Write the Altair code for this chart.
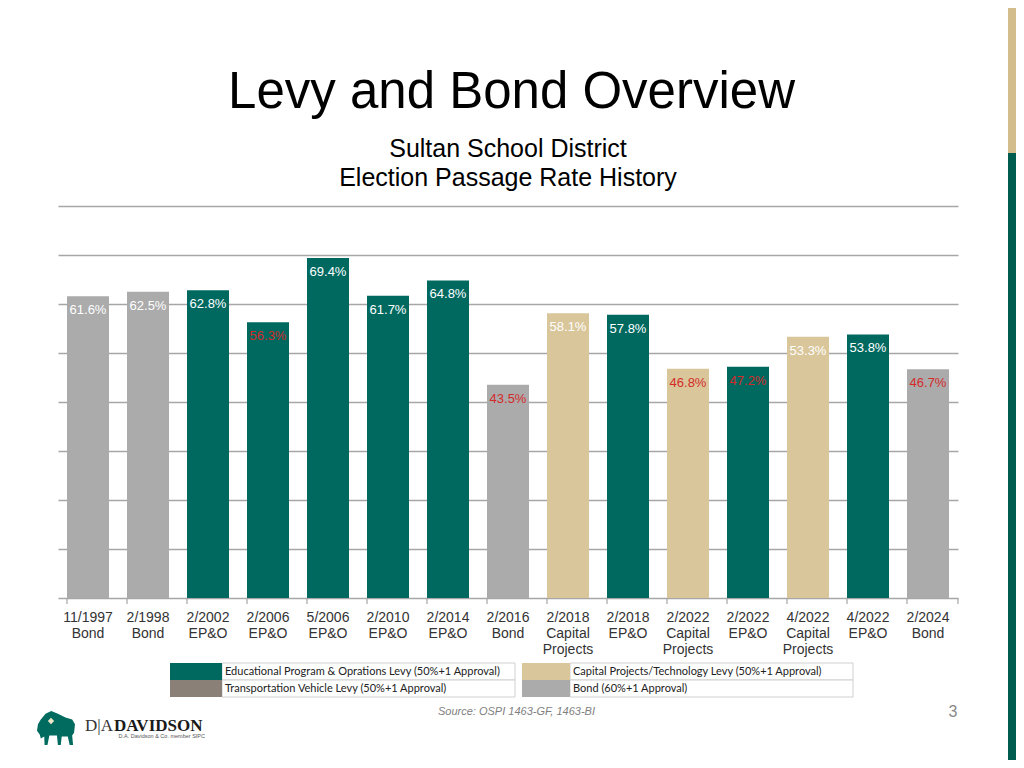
import altair as alt
import pandas as pd

# ---- data ----
dates = ["11/1997", "2/1998", "2/2002", "2/2006", "5/2006", "2/2010", "2/2014", "2/2016",
         "2/2018", "2/2018", "2/2022", "2/2022", "4/2022", "4/2022", "2/2024"]
types = ["Bond", "Bond", "EP&O", "EP&O", "EP&O", "EP&O", "EP&O", "Bond",
         "Capital Projects", "EP&O", "Capital Projects", "EP&O", "Capital Projects", "EP&O", "Bond"]
values = [61.6, 62.5, 62.8, 56.3, 69.4, 61.7, 64.8, 43.5, 58.1, 57.8, 46.8, 47.2, 53.3, 53.8, 46.7]
passed = [True, True, True, False, True, True, True, False, True, True, False, False, True, True, False]

type_names = ["EP&O", "Capital Projects", "Bond"]
type_colors = ["#00695F", "#D9C69A", "#ABABAB"]

legend_labels = ["Educational Program & Oprations Levy (50%+1 Approval)",
                 "Transportation Vehicle Levy (50%+1 Approval)",
                 "Capital Projects/Technology Levy (50%+1 Approval)",
                 "Bond (60%+1 Approval)"]
legend_colors = ["#00695F", "#8B8078", "#D9C69A", "#ABABAB"]

title = "Levy and Bond Overview"
subtitle = ["Sultan School District", "Election Passage Rate History"]
source = "Source:  OSPI 1463-GF, 1463-BI"

keys = [d + "|" + t.replace(" ", "|") for d, t in zip(dates, types)]
df = pd.DataFrame({
    "key": keys,
    "type": types,
    "value": values,
    "label": [f"{v:.1f}%" for v in values],
    "lc": ["#FFFFFF" if p else "#D42A2A" for p in passed],
})

W, H = 900, 392
FONT = "Liberation Sans"

xenc = alt.X("key:N", sort=keys,
             scale=alt.Scale(paddingInner=0.3, paddingOuter=0.15),
             axis=alt.Axis(title=None, labelAngle=0, labelExpr="split(datum.label, '|')",
                           labelFont=FONT, labelFontSize=14, labelColor="#333333",
                           labelLineHeight=16, labelPadding=12, ticks=False,
                           domainColor="#A6A6A6", domainWidth=1.5))
yenc = alt.Y("value:Q", scale=alt.Scale(domain=[0, 80]),
             axis=alt.Axis(values=list(range(10, 90, 10)), grid=True, gridColor="#A6A6A6",
                           gridWidth=1.5, labels=False, ticks=False, domain=False, title=None))

base = alt.Chart(df)
bars = base.mark_bar().encode(
    x=xenc, y=yenc,
    color=alt.Color("type:N", scale=alt.Scale(domain=type_names, range=type_colors), legend=None),
)
labels = base.mark_text(font=FONT, fontSize=13, baseline="middle", dy=14).encode(
    x=alt.X("key:N", sort=keys), y="value:Q", text="label:N",
    color=alt.Color("lc:N", scale=None),
)
ticks = base.mark_rule(color="#A6A6A6", strokeWidth=1.2).encode(
    x=alt.X("key:N", sort=keys, bandPosition=0), y=alt.value(H), y2=alt.value(H + 6))
end_tick = alt.Chart(alt.Data(values=[{}])).mark_rule(color="#A6A6A6", strokeWidth=1.2).encode(
    x=alt.value(W), y=alt.value(H), y2=alt.value(H + 6))

one = alt.Data(values=[{}])
deco = []
# titles
deco.append(alt.Chart(one).mark_text(text=title, font=FONT, fontSize=51, color="#000000",
                                     align="center", baseline="alphabetic")
            .encode(x=alt.value(453.5), y=alt.value(-98)))
for i, s in enumerate(subtitle):
    deco.append(alt.Chart(one).mark_text(text=s, font=FONT, fontSize=25, color="#000000",
                                         align="center", baseline="alphabetic")
                .encode(x=alt.value(450), y=alt.value(-49 + 29 * i)))
# legend table
for i, (lab, col) in enumerate(zip(legend_labels, legend_colors)):
    c, r = i // 2, i % 2
    sx0, sx1, tx1 = (112, 164, 457) if c == 0 else (464, 512, 795)
    y0 = 457 + 17 * r
    deco.append(alt.Chart(one).mark_rect(fill="#FFFFFF", stroke="#D0D0D0", strokeWidth=1)
                .encode(x=alt.value(sx1), x2=alt.value(tx1), y=alt.value(y0), y2=alt.value(y0 + 17)))
    deco.append(alt.Chart(one).mark_rect(fill=col)
                .encode(x=alt.value(sx0), x2=alt.value(sx1), y=alt.value(y0), y2=alt.value(y0 + 17)))
    deco.append(alt.Chart(one).mark_text(text=lab, font="Lato", fontSize=11, color="#222222",
                                         align="left", baseline="middle")
                .encode(x=alt.value(sx1 + 3), y=alt.value(y0 + 9)))
# footer
deco.append(alt.Chart(one).mark_text(text=source, font=FONT, fontSize=11, fontStyle="italic",
                                     color="#808080", align="left", baseline="middle")
            .encode(x=alt.value(380), y=alt.value(506)))
deco.append(alt.Chart(one).mark_text(text="3", font=FONT, fontSize=16, color="#888888",
                                     align="center", baseline="middle")
            .encode(x=alt.value(895), y=alt.value(506)))
# logo
bison = ("M -1 0.15 L -0.95 -0.2 L -0.8 -0.45 L -0.55 -0.75 L -0.25 -0.9 L 0.1 -0.75 "
         "L 0.5 -0.55 L 0.85 -0.45 L 1 -0.2 L 0.95 0.25 L 0.85 0.4 L 0.9 0.9 L 0.72 0.9 "
         "L 0.62 0.45 L 0.3 0.45 L 0.25 0.9 L 0.1 0.9 L 0.05 0.4 L -0.35 0.4 L -0.45 0.9 "
         "L -0.6 0.9 L -0.62 0.45 L -0.8 0.55 L -0.85 0.35 Z")
deco.append(alt.Chart(one).mark_point(shape=bison, filled=True, fill="#006B5E", opacity=1,
                                      strokeWidth=0, size=1444)
            .encode(x=alt.value(-2), y=alt.value(522)))
deco.append(alt.Chart(one).mark_point(shape="diamond", filled=True, fill="#EDE6C8", opacity=1,
                                      size=40)
            .encode(x=alt.value(-7), y=alt.value(515)))
deco.append(alt.Chart(one).mark_text(text="D|A", font="Liberation Serif", fontSize=17,
                                     color="#333333", align="left", baseline="alphabetic")
            .encode(x=alt.value(27), y=alt.value(525)))
deco.append(alt.Chart(one).mark_text(text="DAVIDSON", font="Liberation Serif", fontSize=17,
                                     fontWeight="bold", color="#1A1A1A", align="left",
                                     baseline="alphabetic")
            .encode(x=alt.value(56), y=alt.value(525)))
deco.append(alt.Chart(one).mark_text(text="D.A. Davidson & Co. member SIPC", font=FONT,
                                     fontSize=5.5, color="#555555", align="right",
                                     baseline="middle")
            .encode(x=alt.value(147), y=alt.value(530)))
# right side strip
deco.append(alt.Chart(one).mark_rect(fill="#D3BD8C")
            .encode(x=alt.value(950), x2=alt.value(958), y=alt.value(-198), y2=alt.value(-53)))
deco.append(alt.Chart(one).mark_rect(fill="#005C4F")
            .encode(x=alt.value(950), x2=alt.value(958), y=alt.value(-53), y2=alt.value(554)))

chart = alt.layer(bars, ticks, end_tick, labels, *deco).properties(
    width=W, height=H,
    padding={"left": 50, "top": 198, "right": 58, "bottom": 162},
    autosize=alt.AutoSizeParams(type="none"),
    background="#FFFFFF",
).configure_view(stroke=None)

chart.save("out.html", embed_options={"renderer": "svg", "actions": False})
